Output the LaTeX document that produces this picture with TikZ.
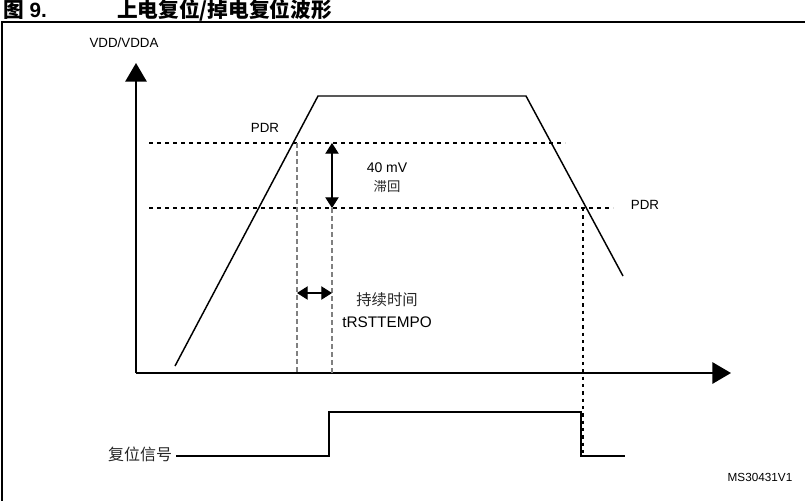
\documentclass[tikz,border=0pt]{standalone}
\usepackage{fontspec}
\setmainfont{Liberation Sans}
\newfontfamily\cjk{Noto Sans CJK SC}
\usetikzlibrary{arrows.meta, positioning}

\begin{document}
\begin{tikzpicture}[
  x=0.75pt, y=-0.75pt,
  lbl/.style={inner sep=0pt, font=\fontsize{10}{12}\selectfont},
  zh/.style={inner sep=0pt, font=\cjk\fontsize{10}{12}\selectfont, text=black!85},
  title/.style={inner sep=0pt, anchor=west, font=\bfseries\fontsize{15.5}{17}\selectfont},
  axis/.style={line width=1.5pt, -{Triangle[length=14pt, width=16pt]}},
  wave/.style={line width=1.1pt},
  rstline/.style={line width=1.4pt},
  level/.style={line width=0.9pt, dash pattern=on 3pt off 3pt},
  guide/.style={line width=0.8pt, gray, dash pattern=on 3.5pt off 2.5pt},
  marker/.style={line width=0.9pt, dash pattern=on 2.5pt off 3pt},
  span/.style={line width=0.8pt, {Triangle[length=8pt, width=10pt]}-{Triangle[length=8pt, width=10pt]}},
  node distance=4pt
]
\useasboundingbox (0,0) rectangle (805,501);

% frame and title
\draw[line width=1.5pt] (805,22) -- (2,22) -- (2,501);
\node[title] (fig)   at (3,10)   {{\cjk 图} 9.};
\node[title] (head)  at (117,10) {\cjk 上电复位/掉电复位波形};

% axes
\coordinate (o)    at (136,373);
\coordinate (ytip) at (136,63);
\coordinate (xtip) at (731,373);
\draw[axis] (o) -- (ytip);
\draw[axis] (o) -- (xtip);
\node[lbl] (vdd) at (124,43) {VDD/VDDA};

% supply ramp
\coordinate (v0) at (175,366);
\coordinate (v1) at (318,96);
\coordinate (v2) at (526,96);
\coordinate (v3) at (623,276);
\draw[wave] (v0) -- (v1) -- (v2) -- (v3);

% PDR thresholds
\coordinate (hiL) at (149,143);
\coordinate (hiR) at (565,143);
\coordinate (loL) at (149,208);
\coordinate (loR) at (613,208);
\draw[level] (hiL) -- (hiR);
\draw[level] (loL) -- (loR);
\node[lbl] (pdrup) at (265,128) {PDR};
\node[lbl] (pdrdn) at (645,205) {PDR};

% hysteresis
\coordinate (ha) at (332,143);
\coordinate (hb) at (332,208);
\draw[span] (ha) -- (hb);
\node[lbl, font=\fontsize{10.5}{12}\selectfont] (mv) at (387,168) {40 mV};
\node[zh, below=5pt of mv] (hys) {滞回};

% tempo
\coordinate (g1t) at (297,143);
\coordinate (g1b) at (297,373);
\coordinate (g2b) at (332,373);
\draw[guide] (g1t) -- (g1b);
\draw[guide] (hb) -- (g2b);
\coordinate (ta) at (297,293);
\coordinate (tb) at (332,293);
\draw[span] (ta) -- (tb);
\node[zh, font=\cjk\fontsize{11.5}{13}\selectfont] (dur) at (387,300) {持续时间};
\node[lbl, font=\fontsize{11.5}{13}\selectfont, below=7pt of dur] (trst) {tRSTTEMPO};

% reset signal
\node[zh, font=\cjk\fontsize{12}{14}\selectfont] (rst) at (140,454) {复位信号};
\coordinate (r0) at (176,456);
\coordinate (r1) at (329,456);
\coordinate (r2) at (329,412);
\coordinate (r3) at (581,412);
\coordinate (r4) at (581,456);
\coordinate (r5) at (625,456);
\draw[rstline] (r0) -- (r1) -- (r2) -- (r3) -- (r4) -- (r5);
\coordinate (d0) at (583,208);
\coordinate (d1) at (583,456);
\draw[marker] (d0) -- (d1);

\node[lbl, font=\fontsize{8.8}{10}\selectfont] (ref) at (760,477) {MS30431V1};
\end{tikzpicture}
\end{document}
